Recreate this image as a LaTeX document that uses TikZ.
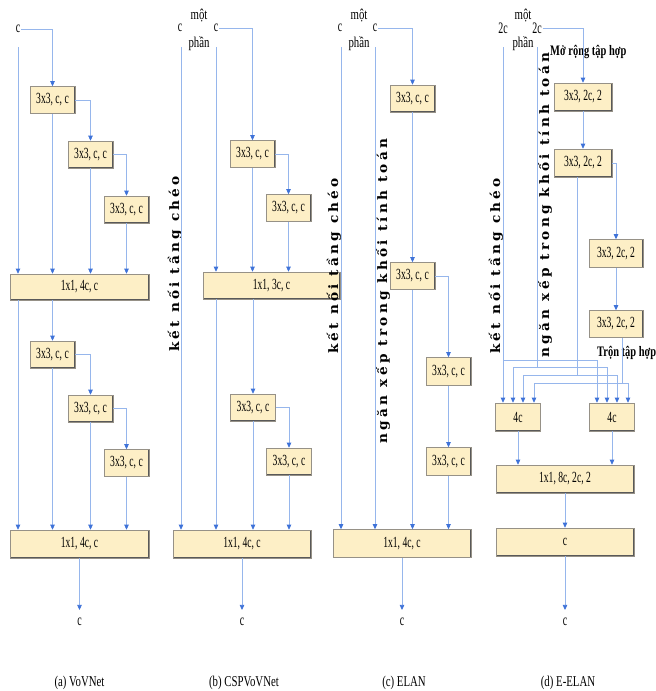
\documentclass[tikz,border=0pt]{standalone}
\usepackage{fontspec}
\setmainfont[FakeStretch=0.62]{Liberation Serif}
\newfontfamily\capfont[FakeStretch=0.72]{Liberation Serif}
\newfontfamily\vfont[LetterSpace=25,FakeStretch=1.05]{DejaVu Serif}
\usetikzlibrary{arrows.meta}
\definecolor{boxfill}{RGB}{253,239,198}
\definecolor{lnc}{RGB}{150,182,236}
\definecolor{arc}{RGB}{62,114,216}
\definecolor{boxedge}{RGB}{150,145,135}
\tikzset{
  box/.style={draw=boxedge, fill=boxfill, line width=0.6pt, inner sep=0pt,
    font=\fontsize{15.5}{15.5}\selectfont, minimum height=27pt, minimum width=45pt,
    path picture={\draw[black!65,line width=1.8pt]
      (path picture bounding box.south west) -- (path picture bounding box.south east)
      -- (path picture bounding box.north east);}},
  ln/.style={draw=lnc, line width=0.7pt},
  arr/.style={ln, -{Triangle[length=5pt,width=4.5pt,color=arc]}},
  lab/.style={font=\fontsize{16}{16}\selectfont, inner sep=1pt},
  part/.style={font=\capfont\fontsize{15}{15}\selectfont, inner sep=0pt},
  note/.style={font=\capfont\bfseries\fontsize{14.5}{14.5}\selectfont, inner sep=0pt},
  vlab/.style={font=\vfont\bfseries\fontsize{13}{13}\selectfont, inner sep=0pt, rotate=90},
  captxt/.style={font=\capfont\fontsize{15}{15}\selectfont, inner sep=0pt},
}
\begin{document}
\begin{tikzpicture}[x=1pt,y=-1pt]
\useasboundingbox (0,0) rectangle (656,691);

% ---------------- (a) VoVNet ----------------
\node[lab] (ca) at (18,29) {c};
\coordinate (ca0) at (18,47);
\node[box] (a1) at (52.5,100) {3x3, c, c};
\node[box] (a2) at (90.5,154.5) {3x3, c, c};
\node[box] (a3) at (126.5,209.5) {3x3, c, c};
\node[box, minimum width=139pt, minimum height=26pt] (A1) at (79.5,287) {1x1, 4c, c};
\node[box] (a4) at (52.5,354.5) {3x3, c, c};
\node[box] (a5) at (90.5,408.5) {3x3, c, c};
\node[box] (a6) at (126.5,463) {3x3, c, c};
\node[box, minimum width=139pt, minimum height=28pt] (A2) at (79.5,544) {1x1, 4c, c};
\node[lab] (oa) at (79.5,622) {c};
\node[captxt] (capa) at (79.5,683) {(a) VoVNet};

\draw[arr] (ca.east) -| (a1.north);
\draw[arr] (ca0) -- (ca0 |- A1.north);
\draw[arr] (a1.east) -| (a2.north);
\draw[arr] (a2.east) -| (a3.north);
\draw[arr] (a1.south) -- (a1.south |- A1.north);
\draw[arr] (a2.south) -- (a2.south |- A1.north);
\draw[arr] (a3.south) -- (a3.south |- A1.north);
\draw[arr] (A1.south -| ca0) -- (ca0 |- A2.north);
\draw[arr] (A1.south -| a4.north) -- (a4.north);
\draw[arr] (a4.east) -| (a5.north);
\draw[arr] (a5.east) -| (a6.north);
\draw[arr] (a4.south) -- (a4.south |- A2.north);
\draw[arr] (a5.south) -- (a5.south |- A2.north);
\draw[arr] (a6.south) -- (a6.south |- A2.north);
\draw[arr] (A2.south) -- ([yshift=7pt]oa.north);

% ---------------- (b) CSPVoVNet ----------------
\node[lab] (cb1) at (180,28) {c};
\node[part] (mb1) at (199,16) {một};
\node[part] (mb2) at (199,44) {phần};
\node[lab] (cb2) at (216,28) {c};
\coordinate (cb1s) at (181,47);
\coordinate (cb2s) at (216,47);
\node[box] (b1) at (252.5,154) {3x3, c, c};
\node[box] (b2) at (288.5,208) {3x3, c, c};
\node[box, minimum width=137pt] (B1) at (271.5,285.5) {1x1, 3c, c};
\node[box] (b3) at (253,407.5) {3x3, c, c};
\node[box] (b4) at (289,461.5) {3x3, c, c};
\node[box, minimum width=138pt, minimum height=28pt] (B2) at (242,544) {1x1, 4c, c};
\node[lab] (ob) at (242,622) {c};
\node[captxt] (capb) at (244,683) {(b) CSPVoVNet};
\node[vlab] (vb) at (175,264) {kết nối tầng chéo};

\draw[arr] (cb1s) -- (cb1s |- B2.north);
\draw[arr] (cb2s) -- (cb2s |- B1.north);
\draw[arr] (cb2.east) -| (b1.north);
\draw[arr] (b1.east) -| (b2.north);
\draw[arr] (b1.south) -- (b1.south |- B1.north);
\draw[arr] (b2.south) -- (b2.south |- B1.north);
\draw[arr] (B1.south -| cb2s) -- (cb2s |- B2.north);
\draw[arr] (B1.south -| b3.north) -- (b3.north);
\draw[arr] (b3.east) -| (b4.north);
\draw[arr] (b3.south) -- (b3.south |- B2.north);
\draw[arr] (b4.south) -- (b4.south |- B2.north);
\draw[arr] (B2.south) -- ([yshift=7pt]ob.north);

% ---------------- (c) ELAN ----------------
\node[lab] (cc1) at (340,28) {c};
\node[part] (mc1) at (359,16) {một};
\node[part] (mc2) at (359,44) {phần};
\node[lab] (cc2) at (375,28) {c};
\coordinate (cc1s) at (341,47);
\coordinate (cc2s) at (375,47);
\node[box] (c1) at (412.5,98.5) {3x3, c, c};
\node[box] (c2) at (412.5,276) {3x3, c, c};
\node[box, minimum height=28pt] (c3) at (448.5,371.5) {3x3, c, c};
\node[box, minimum height=28pt] (c4) at (448.5,461.5) {3x3, c, c};
\node[box, minimum width=138pt, minimum height=28pt] (C) at (402,543.5) {1x1, 4c, c};
\node[lab] (oc) at (402,622) {c};
\node[captxt] (capc) at (404,683) {(c) ELAN};
\node[vlab] (vc1) at (334,266) {kết nối tầng chéo};
\node[vlab] (vc2) at (383,291) {ngăn xếp trong khối tính toán};

\draw[arr] (cc1s) -- (cc1s |- C.north);
\draw[arr] (cc2s) -- (cc2s |- C.north);
\draw[arr] (cc2.east) -| (c1.north);
\draw[arr] (c1.south) -- (c2.north);
\draw[arr] (c2.south) -- (c2.south |- C.north);
\draw[arr] (c2.east) -| (c3.north);
\draw[arr] (c3.south) -- (c4.north);
\draw[arr] (c4.south) -- (c4.south |- C.north);
\draw[arr] (C.south) -- ([yshift=7pt]oc.north);

% ---------------- (d) E-ELAN ----------------
\node[lab] (cd1) at (503,28) {2c};
\node[part] (md1) at (523,16) {một};
\node[part] (md2) at (523,44) {phần};
\node[lab] (cd2) at (537,28) {2c};
\coordinate (cd1s) at (503,47);
\coordinate (cd2s) at (537,47);
\node[note, anchor=west] (mo) at (550,52) {Mở rộng tập hợp};
\node[box, minimum width=58pt, minimum height=28pt] (d1) at (583,97) {3x3, 2c, 2};
\node[box, minimum width=58pt, minimum height=28pt] (d2) at (583,163) {3x3, 2c, 2};
\node[box, minimum width=54pt, minimum height=28pt] (d3) at (616,253.5) {3x3, 2c, 2};
\node[box, minimum width=54pt, minimum height=27pt] (d4) at (616,324) {3x3, 2c, 2};
\node[note, anchor=west] (tr) at (597,353) {Trộn tập hợp};
\node[box, minimum width=45pt, minimum height=28pt] (L) at (518,417) {4c};
\node[box, minimum width=45pt, minimum height=28pt] (R) at (612,417) {4c};
\node[box, minimum width=138pt, minimum height=28pt] (D1) at (565,479) {1x1, 8c, 2c, 2};
\node[box, minimum width=138pt, minimum height=28pt] (D2) at (565,542) {c};
\node[lab] (od) at (565,622) {c};
\node[captxt] (capd) at (568,683) {(d) E-ELAN};
\node[vlab] (vd1) at (496,266) {kết nối tầng chéo};
\node[vlab] (vd2) at (545,205) {ngăn xếp trong khối tính toán};

\coordinate (h1) at (0,360);
\coordinate (h2) at (0,367);
\coordinate (h3) at (0,375);
\coordinate (h4) at (0,383);
\coordinate (d2o) at ([xshift=-6pt]d2.south);
\coordinate (d4o) at ([xshift=6pt]d4.south);

\draw[arr] (cd2.east) -| (d1.north);
\draw[arr] (d1.south) -- (d2.north);
\draw[arr] (d2.east) -| (d3.north);
\draw[arr] (d3.south) -- (d4.north);

\draw[arr] (cd1s) -- (cd1s |- L.north);
\draw[arr] (cd1s |- h1) -| ([xshift=-15pt]R.north);
\draw[ln] (cd2s) -- (cd2s |- h2);
\draw[arr] (cd2s |- h2) -| ([xshift=-5pt]L.north);
\draw[arr] (cd2s |- h2) -| ([xshift=-5pt]R.north);
\draw[ln] (d2o) -- (d2o |- h3);
\draw[arr] (d2o |- h3) -| ([xshift=5pt]L.north);
\draw[arr] (d2o |- h3) -| ([xshift=5pt]R.north);
\draw[ln] (d4o) -- (d4o |- h4);
\draw[arr] (d4o |- h4) -| ([xshift=16pt]L.north);
\draw[arr] (d4o |- h4) -| ([xshift=16pt]R.north);

\draw[arr] (L.south) -- (L.south |- D1.north);
\draw[arr] (R.south) -- (R.south |- D1.north);
\draw[arr] (D1.south) -- (D2.north);
\draw[arr] (D2.south) -- ([yshift=7pt]od.north);
\end{tikzpicture}
\end{document}
